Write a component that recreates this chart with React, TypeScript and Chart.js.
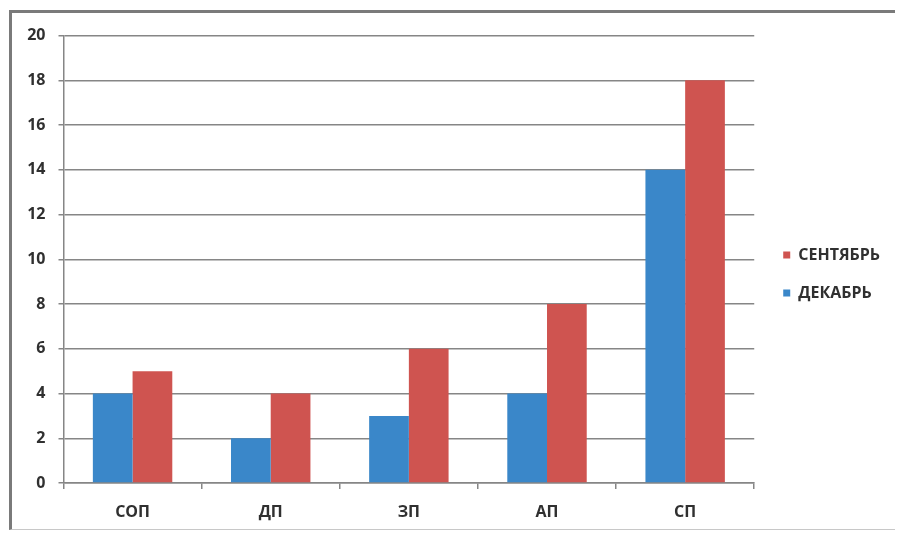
import React, { useEffect, useRef } from "react";
import { Chart, registerables } from "chart.js";

Chart.register(...registerables);

const categories = ["СОП", "ДП", "ЗП", "АП", "СП"];
const decemberValues = [4, 2, 3, 4, 14];
const septemberValues = [5, 4, 6, 8, 18];
const seriesNames = ["ДЕКАБРЬ", "СЕНТЯБРЬ"];

const FONT = "'Open Sans', 'Liberation Sans', sans-serif";

export default function App() {
  const ref = useRef<HTMLCanvasElement | null>(null);

  useEffect(() => {
    if (!ref.current) return;
    const chart = new Chart(ref.current, {
      type: "bar",
      data: {
        labels: categories,
        datasets: [
          {
            label: seriesNames[0],
            data: decemberValues,
            backgroundColor: "#3a87c9",
            borderWidth: 0,
            yAxisID: "y",
          },
          {
            label: seriesNames[1],
            data: septemberValues,
            backgroundColor: "#cf5450",
            borderWidth: 0,
            yAxisID: "y",
          },
        ],
      },
      options: {
        responsive: false,
        animation: false,
        devicePixelRatio: 1,
        layout: { padding: { left: 0, top: 21, bottom: 0, right: 5 } },
        datasets: {
          bar: { categoryPercentage: 0.575, barPercentage: 1 },
        },
        plugins: {
          tooltip: { enabled: false },
          title: { display: false },
          legend: {
            position: "right",
            align: "start",
            reverse: true,
            title: {
              display: true,
              text: " ",
              font: { size: 10 },
              padding: { top: 0, bottom: 179 },
            },
            labels: {
              boxWidth: 7,
              boxHeight: 7,
              padding: 22,
              color: "#303030",
              font: { family: FONT, size: 16, weight: "bold" },
            },
          },
        },
        scales: {
          x: {
            afterFit: (s: any) => {
              s.height = 46;
            },
            grid: {
              display: true,
              drawOnChartArea: false,
              drawTicks: true,
              tickLength: 6,
              color: "#868686",
              lineWidth: 1.5,
            },
            border: { display: true, color: "#868686", width: 1.5 },
            ticks: {
              padding: 14,
              color: "#303030",
              font: { family: FONT, size: 16, weight: "bold" },
            },
          },
          y: {
            min: 0,
            max: 20,
            afterFit: (s: any) => {
              s.width = 51.5;
            },
            grid: {
              color: "#868686",
              lineWidth: 1.5,
              tickLength: 5,
            },
            border: { display: true, color: "#868686", width: 1.5 },
            ticks: {
              stepSize: 2,
              padding: 13,
              color: "#303030",
              font: { family: FONT, size: 16, weight: "bold" },
            },
          },
          gap: {
            type: "linear",
            position: "right",
            display: true,
            afterFit: (s: any) => {
              s.width = 7;
            },
            grid: { display: false, drawTicks: false },
            border: { display: false },
            ticks: { display: false },
          },
        },
      },
    });
    return () => chart.destroy();
  }, []);

  return (
    <div
      style={{
        marginLeft: 1,
        marginTop: 2,
        width: 883,
        height: 516,
        borderLeft: "3px solid #7a7a7a",
        borderTop: "3px solid #7a7a7a",
        borderRight: "1px solid #d0d0d0",
        borderBottom: "1px solid #c8c8c8",
        background: "#ffffff",
      }}
    >
      <canvas ref={ref} width={883} height={516} style={{ display: "block" }} />
    </div>
  );
}
